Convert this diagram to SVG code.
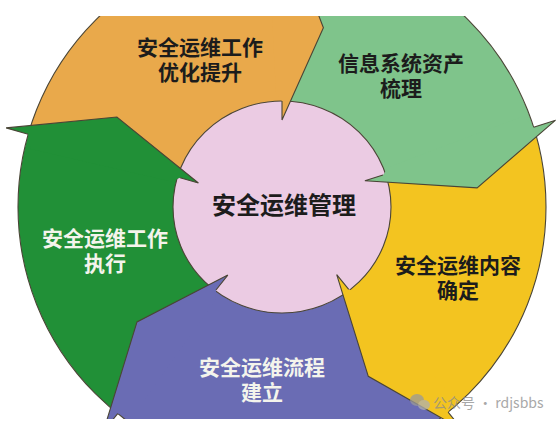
<svg xmlns="http://www.w3.org/2000/svg" width="558" height="425" viewBox="0 0 558 425">
  <defs>
    <clipPath id="clip"><rect x="0" y="16" width="558" height="403"/></clipPath>
  </defs>
  <style>
    .edge{fill:none;stroke:#4a4536;stroke-width:1.1;stroke-linejoin:miter}
    .lbl{font-family:"Noto Sans CJK SC","Noto Sans",sans-serif;font-weight:bold;font-size:21px;text-anchor:middle}
    .dark{fill:#1c1c1c}
    .light{fill:#f4f4ec}
    .c-or{fill:#E9A94B}
    .c-lg{fill:#7FC48B}
    .c-ye{fill:#F3C420}
    .c-bl{fill:#6A6CB4}
    .c-dg{fill:#219037}
  </style>
  <rect width="558" height="425" fill="#ffffff"/>
  <g clip-path="url(#clip)">
    <g id="orange">
      <path class="c-or" d="M282,207 L28.2,134.2 A264,264 0 0 1 282,-57 Z"/>
    </g>
    <g id="lightgreen">
      <path class="c-lg" d="M282,207 L282,-57 A264,264 0 0 1 533.6,127.2 Z"/>
    </g>
    <g id="yellow">
      <path class="c-ye" d="M282,207 L533.6,127.2 A264,264 0 0 1 448.1,412.2 Z"/>
    </g>
    <g id="blue">
      <path class="c-bl" d="M282,207 L448.1,412.2 A264,264 0 0 1 117.7,413.6 Z"/>
    </g>
    <g id="darkgreen">
      <path class="c-dg" d="M282,207 L117.7,413.6 A264,264 0 0 1 28.2,134.2 Z"/>
    </g>
    <circle class="edge" cx="282" cy="207" r="264"/>
    <g id="center">
      <ellipse cx="282" cy="207" rx="109" ry="106" fill="#EBCBE3" stroke="#4a4536" stroke-width="1.1"/>
    </g>
    <g id="connectors">
      <polygon class="c-or" points="282,-80 323.4,27.7 282,120 282,101 276.0,93.2 268.5,-50.6 282,-57"/>
      <polygon class="c-lg" points="555.6,120.2 477.1,187.9 364.9,180.7 383.0,174.9 388.7,166.9 523.5,116.2 533.6,127.2"/>
      <polygon class="c-ye" points="462.6,430.0 368.3,376.3 336.7,274.6 348.7,289.4 358.3,291.7 454.6,398.7 448.1,412.2"/>
      <polygon class="c-bl" points="103.3,431.6 137.0,321.9 227.8,275.1 216.0,290.0 215.8,299.8 132.2,417.0 117.7,413.6"/>
      <polygon class="c-dg" points="6.1,127.9 116.9,117.0 198.4,183.0 180.1,177.8 170.9,181.4 30.6,149.0 28.2,134.2"/>
      <polyline class="edge" points="282,-57 282,-80 323.4,27.7 282,120 282,101"/>
      <polyline class="edge" points="533.6,127.2 555.6,120.2 477.1,187.9 364.9,180.7 383.0,174.9"/>
      <polyline class="edge" points="448.1,412.2 462.6,430.0 368.3,376.3 336.7,274.6 348.7,289.4"/>
      <polyline class="edge" points="117.7,413.6 103.3,431.6 137.0,321.9 227.8,275.1 216.0,290.0"/>
      <polyline class="edge" points="28.2,134.2 6.1,127.9 116.9,117.0 198.4,183.0 180.1,177.8"/>
    </g>
  </g>
  <g id="labels">
    <text class="lbl dark" x="284" y="214" style="font-size:24px">安全运维管理</text>
    <text class="lbl dark" x="200" y="55">安全运维工作<tspan x="200" dy="25">优化提升</tspan></text>
    <text class="lbl dark" x="401" y="71" fill="#1d2b1d">信息系统资产<tspan x="401" dy="25">梳理</tspan></text>
    <text class="lbl dark" x="458" y="273">安全运维内容<tspan x="458" dy="25">确定</tspan></text>
    <text class="lbl light" x="262" y="375">安全运维流程<tspan x="262" dy="25">建立</tspan></text>
    <text class="lbl light" x="105" y="246">安全运维工作<tspan x="105" dy="25">执行</tspan></text>
  </g>
  <g id="watermark" opacity="0.75">
    <ellipse cx="417" cy="400" rx="7" ry="6" fill="#9a9a9a"/>
    <ellipse cx="424" cy="405" rx="6" ry="5" fill="#b0b0b0"/>
    <text x="433" y="408" font-family="'Noto Sans CJK SC','Noto Sans',sans-serif" font-size="14" fill="#8c8c8c">公众号 · rdjsbbs</text>
  </g>
</svg>
